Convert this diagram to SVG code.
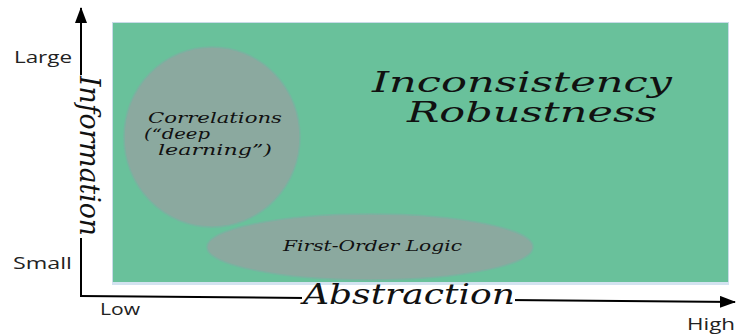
<svg xmlns="http://www.w3.org/2000/svg" width="736" height="335" viewBox="0 0 736 335">
<defs>
<style>
.hand{font-family:"DejaVu Serif","Liberation Serif",serif;font-style:italic;fill:#111}
.lab{font-family:"Open Sans","Liberation Sans",sans-serif;font-size:16px;fill:#222}
.ell{fill:#8ba99f;stroke:#79b3a0;stroke-width:1.5}
.axis{stroke:#000;stroke-width:2;fill:none}
</style>
<marker id="ah" viewBox="0 0 16 12" refX="15" refY="6" markerWidth="16" markerHeight="12" markerUnits="userSpaceOnUse" orient="auto">
<path d="M0,0 L16,6 L0,12 Z" fill="#000"/>
</marker>
</defs>
<rect width="736" height="335" fill="#fff"/>
<g id="region">
<rect x="112.5" y="22.5" width="616" height="260" fill="#69c19b" stroke="#c9dbe8" stroke-width="1"/>
<rect x="112" y="282" width="617" height="3" fill="#d3e3f0"/>
</g>
<g id="connectors">
<line class="axis" x1="81" y1="296" x2="81" y2="8" marker-end="url(#ah)"/>
<line class="axis" x1="80" y1="296" x2="735" y2="302" marker-end="url(#ah)"/>
</g>
<g id="correlations">
<ellipse class="ell" cx="212" cy="137" rx="88" ry="90"/>
<text class="hand" font-size="14" x="148" y="123" textLength="134" lengthAdjust="spacingAndGlyphs">Correlations</text>
<text class="hand" font-size="14" x="144" y="139" textLength="66" lengthAdjust="spacingAndGlyphs">(“deep</text>
<text class="hand" font-size="14" x="158" y="155" textLength="114" lengthAdjust="spacingAndGlyphs">learning”)</text>
</g>
<g id="fol">
<ellipse class="ell" cx="370" cy="247" rx="163" ry="33"/>
<text class="hand" font-size="15" x="283" y="251" textLength="179" lengthAdjust="spacingAndGlyphs">First-Order Logic</text>
</g>
<g id="title">
<text class="hand" font-size="28" x="372" y="92" textLength="300" lengthAdjust="spacingAndGlyphs">Inconsistency</text>
<text class="hand" font-size="28" x="407" y="122" textLength="250" lengthAdjust="spacingAndGlyphs">Robustness</text>
</g>
<g id="xlabel">
<rect x="302" y="286" width="213" height="22" fill="#fff"/>
<text class="hand" font-size="28" x="303" y="304" textLength="212" lengthAdjust="spacingAndGlyphs">Abstraction</text>
</g>
<g id="ylabel">
<rect x="66" y="75" width="36" height="163" fill="#fff"/>
<text class="hand" font-size="28" transform="translate(80,76) rotate(90)" x="0" y="0" textLength="160" lengthAdjust="spacingAndGlyphs">Information</text>
</g>
<g id="ticks">
<text class="lab" x="14" y="63" textLength="58" lengthAdjust="spacingAndGlyphs">Large</text>
<text class="lab" x="13" y="269" textLength="59" lengthAdjust="spacingAndGlyphs">Small</text>
<text class="lab" x="100" y="315" textLength="40" lengthAdjust="spacingAndGlyphs">Low</text>
<text class="lab" x="687" y="330" textLength="48" lengthAdjust="spacingAndGlyphs">High</text>
</g>
</svg>
